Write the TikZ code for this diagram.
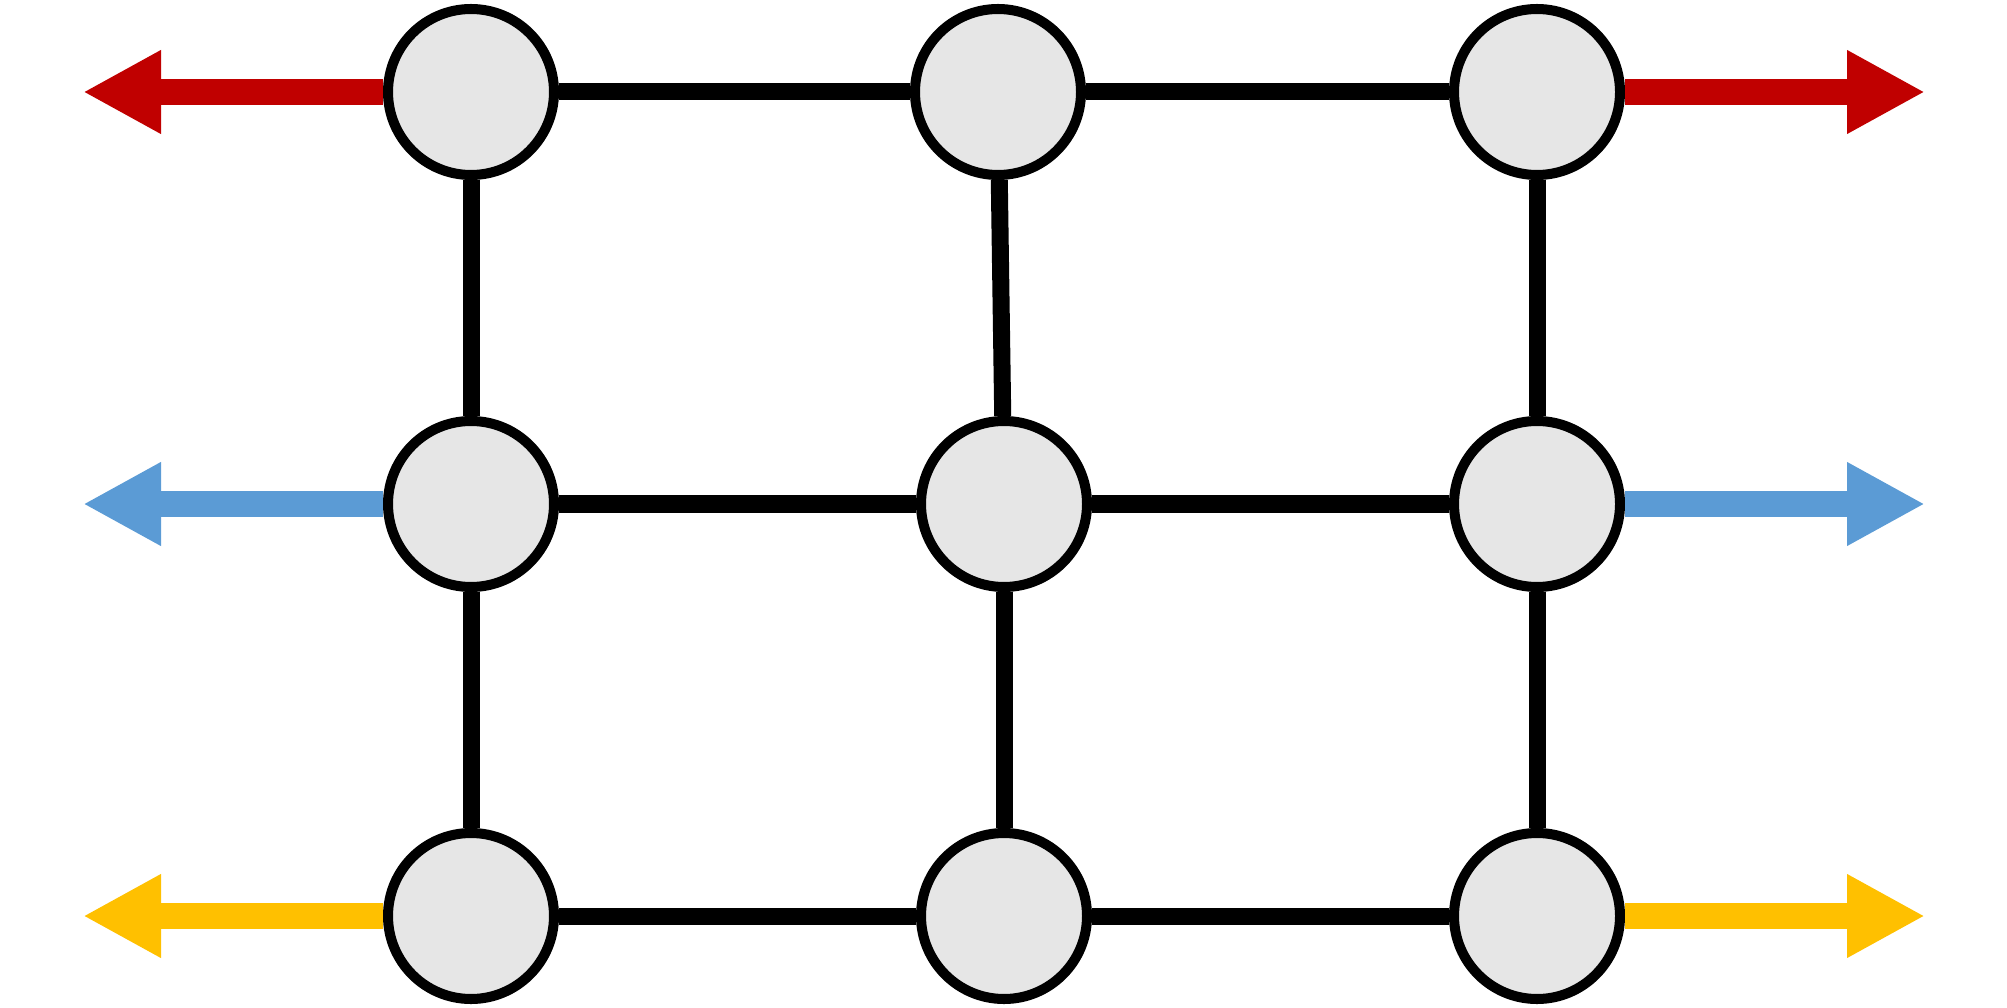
\documentclass[tikz,border=0pt]{standalone}
\usepackage{tikz}
\usetikzlibrary{arrows.meta}

\definecolor{darkred}{HTML}{C00000}
\definecolor{skyblue}{HTML}{5B9BD5}
\definecolor{gold}{HTML}{FFC000}
\definecolor{lightgray}{HTML}{E6E6E6}

\tikzset{
  site/.style={circle,draw=black,fill=lightgray,line width=2.85pt,minimum size=1.66cm,inner sep=0pt},
  bond/.style={line width=4.84pt},
  lead/.style={line width=7.4pt,-{Triangle[length=0.78cm,width=0.78cm]}}
}

\begin{document}
\begin{tikzpicture}
\useasboundingbox (0,0) rectangle (20.07,-10.08);
\node[site] (a1) at (4.71,-0.92) {};
\node[site] (a2) at (9.98,-0.92) {};
\node[site] (a3) at (15.37,-0.92) {};
\node[site] (b1) at (4.71,-5.04) {};
\node[site] (b2) at (10.04,-5.04) {};
\node[site] (b3) at (15.37,-5.04) {};
\node[site] (c1) at (4.71,-9.16) {};
\node[site] (c2) at (10.04,-9.16) {};
\node[site] (c3) at (15.37,-9.16) {};
\coordinate (al) at (0.83,-0.92);
\coordinate (ar) at (19.25,-0.92);
\coordinate (bl) at (0.83,-5.04);
\coordinate (br) at (19.25,-5.04);
\coordinate (cl) at (0.83,-9.16);
\coordinate (cr) at (19.25,-9.16);
% bonds
\draw[bond] (a1)--(a2);
\draw[bond] (a2)--(a3);
\draw[bond] (b1)--(b2);
\draw[bond] (b2)--(b3);
\draw[bond] (c1)--(c2);
\draw[bond] (c2)--(c3);
\draw[bond] (a1)--(b1);
\draw[bond] (b1)--(c1);
\draw[bond] (a2)--(b2);
\draw[bond] (b2)--(c2);
\draw[bond] (a3)--(b3);
\draw[bond] (b3)--(c3);
% leads
\draw[lead,darkred] (a1.west)--(al);
\draw[lead,darkred] (a3.east)--(ar);
\draw[lead,skyblue] (b1.west)--(bl);
\draw[lead,skyblue] (b3.east)--(br);
\draw[lead,gold] (c1.west)--(cl);
\draw[lead,gold] (c3.east)--(cr);
\end{tikzpicture}
\end{document}
